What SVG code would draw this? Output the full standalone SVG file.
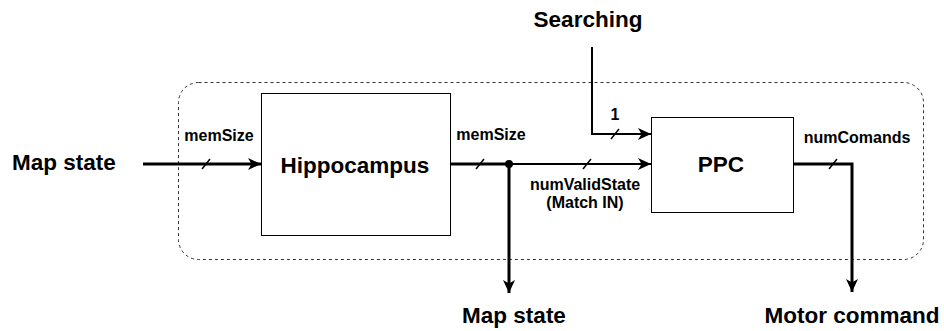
<svg xmlns="http://www.w3.org/2000/svg" width="944" height="331" viewBox="0 0 944 331">
  <style>
    .box { fill: #ffffff; stroke: #000000; stroke-width: 1; }
    .frame { fill: none; stroke: #333333; stroke-width: 1; stroke-dasharray: 3 3; }
    .thick { fill: none; stroke: #000000; stroke-width: 3; }
    .thin { fill: none; stroke: #000000; stroke-width: 2; }
    .tick { fill: none; stroke: #000000; stroke-width: 1.5; }
    .big { font-family: "Liberation Sans", Arial, sans-serif; font-weight: bold; font-size: 22.5px; fill: #000000; }
    .lbl { font-family: "Liberation Sans", Arial, sans-serif; font-weight: bold; font-size: 16px; fill: #000000; }
  </style>
  <defs>
    <marker id="arrow" markerUnits="userSpaceOnUse" markerWidth="14" markerHeight="12" refX="13" refY="6" orient="auto">
      <path d="M0,0 L13,6 L0,12 L3.5,6 Z" fill="#000000"/>
    </marker>
  </defs>

  <rect width="944" height="331" fill="#ffffff"/>

  <!-- subsystem boundary -->
  <rect class="frame" x="178.5" y="82.5" width="745" height="177" rx="20" ry="20"/>

  <g id="hippocampus">
    <rect class="box" x="261.5" y="93.5" width="189" height="142"/>
    <text class="big" x="355" y="173" text-anchor="middle">Hippocampus</text>
  </g>

  <g id="ppc">
    <rect class="box" x="651.5" y="117.5" width="142" height="95"/>
    <text class="big" x="721" y="172" text-anchor="middle">PPC</text>
  </g>

  <g id="map-state-in">
    <text class="big" x="12" y="170">Map state</text>
  </g>

  <g id="searching">
    <text class="big" x="588" y="27" text-anchor="middle">Searching</text>
  </g>

  <g id="map-state-out">
    <text class="big" x="514" y="323" text-anchor="middle">Map state</text>
  </g>

  <g id="motor-command">
    <text class="big" x="852" y="323" text-anchor="middle">Motor command</text>
  </g>

  <g id="connectors">
    <!-- Map state -> Hippocampus -->
    <line class="thick" x1="143" y1="164" x2="261" y2="164" marker-end="url(#arrow)"/>
    <line class="tick" x1="202" y1="169" x2="210" y2="159"/>
    <text class="lbl" x="219" y="141" text-anchor="middle">memSize</text>

    <!-- Hippocampus -> junction -->
    <line class="thick" x1="450" y1="164" x2="509" y2="164"/>
    <line class="tick" x1="476" y1="169" x2="484" y2="159"/>
    <text class="lbl" x="491" y="140" text-anchor="middle">memSize</text>
    <circle cx="509" cy="164" r="4" fill="#000000"/>

    <!-- junction -> Map state out -->
    <line class="thick" x1="509" y1="164" x2="509" y2="293" marker-end="url(#arrow)"/>

    <!-- junction -> PPC -->
    <line class="thin" x1="509" y1="164" x2="651" y2="164" marker-end="url(#arrow)"/>
    <line class="tick" x1="583" y1="169" x2="591" y2="159"/>
    <text class="lbl" x="585" y="190" text-anchor="middle">numValidState</text>
    <text class="lbl" x="585" y="208" text-anchor="middle">(Match IN)</text>

    <!-- Searching -> PPC -->
    <polyline class="thin" points="592,47 592,134 651,134" marker-end="url(#arrow)"/>
    <line class="tick" x1="611" y1="139" x2="619" y2="129"/>
    <text class="lbl" x="615" y="120" text-anchor="middle">1</text>

    <!-- PPC -> Motor command -->
    <polyline class="thick" points="793,164 852,164 852,292" marker-end="url(#arrow)"/>
    <line class="tick" x1="829" y1="169" x2="837" y2="159"/>
    <text class="lbl" x="857" y="143" text-anchor="middle">numComands</text>
  </g>
</svg>
